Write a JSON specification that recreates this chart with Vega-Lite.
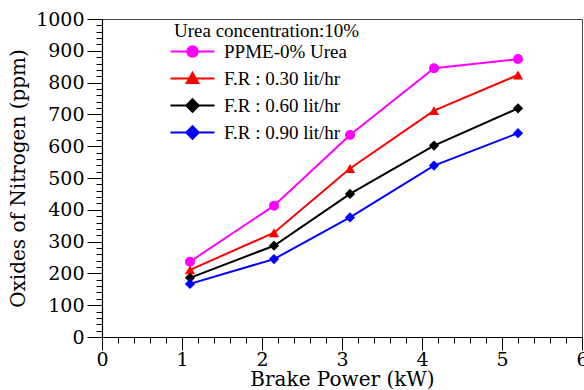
{
  "$schema": "https://vega.github.io/schema/vega-lite/v6.json",
  "width": 480,
  "height": 318,
  "autosize": {"type": "none"},
  "padding": {"left": 102, "top": 19, "right": 2, "bottom": 53},
  "background": "white",
  "config": {
    "font": "Liberation Serif",
    "view": {"stroke": "#444", "strokeWidth": 1},
    "axis": {"grid": false, "domainColor": "#000", "tickColor": "#000", "labelColor": "#000", "titleColor": "#000", "titleFontWeight": "normal"}
  },
  "data": {
    "values": [
      {"bp": 1.1, "nox": 237, "s": "PPME-0% Urea"},
      {"bp": 2.15, "nox": 413, "s": "PPME-0% Urea"},
      {"bp": 3.1, "nox": 635, "s": "PPME-0% Urea"},
      {"bp": 4.15, "nox": 845, "s": "PPME-0% Urea"},
      {"bp": 5.2, "nox": 874, "s": "PPME-0% Urea"},
      {"bp": 1.1, "nox": 211, "s": "F.R : 0.30 lit/hr"},
      {"bp": 2.15, "nox": 328, "s": "F.R : 0.30 lit/hr"},
      {"bp": 3.1, "nox": 530, "s": "F.R : 0.30 lit/hr"},
      {"bp": 4.15, "nox": 712, "s": "F.R : 0.30 lit/hr"},
      {"bp": 5.2, "nox": 824, "s": "F.R : 0.30 lit/hr"},
      {"bp": 1.1, "nox": 186, "s": "F.R : 0.60 lit/hr"},
      {"bp": 2.15, "nox": 287, "s": "F.R : 0.60 lit/hr"},
      {"bp": 3.1, "nox": 450, "s": "F.R : 0.60 lit/hr"},
      {"bp": 4.15, "nox": 602, "s": "F.R : 0.60 lit/hr"},
      {"bp": 5.2, "nox": 719, "s": "F.R : 0.60 lit/hr"},
      {"bp": 1.1, "nox": 167, "s": "F.R : 0.90 lit/hr"},
      {"bp": 2.15, "nox": 245, "s": "F.R : 0.90 lit/hr"},
      {"bp": 3.1, "nox": 376, "s": "F.R : 0.90 lit/hr"},
      {"bp": 4.15, "nox": 539, "s": "F.R : 0.90 lit/hr"},
      {"bp": 5.2, "nox": 641, "s": "F.R : 0.90 lit/hr"}
    ]
  },
  "encoding": {
    "x": {"field": "bp", "type": "quantitative", "scale": {"domain": [0, 6], "nice": false},
      "axis": {"orient": "bottom",
        "values": [0, 0.2, 0.4, 0.6, 0.8, 1, 1.2, 1.4, 1.6, 1.8, 2, 2.2, 2.4, 2.6, 2.8, 3, 3.2, 3.4, 3.6, 3.8, 4, 4.2, 4.4, 4.6, 4.8, 5, 5.2, 5.4, 5.6, 5.8, 6],
        "labelExpr": "datum.value % 1 === 0 ? format(datum.value, 'd') : ''",
        "tickSize": {"condition": {"test": "datum.value % 1 === 0", "value": 13}, "value": 6},
        "labelFont": "DejaVu Serif", "labelFontSize": 19, "labelPadding": 0, "labelFlush": false, "labelOverlap": false,
        "title": "Brake Power (kW)", "titleFont": "DejaVu Serif", "titleFontSize": 20, "titlePadding": 0, "domainWidth": 1.2}},
    "y": {"field": "nox", "type": "quantitative", "scale": {"domain": [0, 1000], "nice": false},
      "axis": {"orient": "left",
        "values": [0, 20, 40, 60, 80, 100, 120, 140, 160, 180, 200, 220, 240, 260, 280, 300, 320, 340, 360, 380, 400, 420, 440, 460, 480, 500, 520, 540, 560, 580, 600, 620, 640, 660, 680, 700, 720, 740, 760, 780, 800, 820, 840, 860, 880, 900, 920, 940, 960, 980, 1000],
        "labelExpr": "datum.value % 100 === 0 ? format(datum.value, 'd') : ''",
        "tickSize": {"condition": {"test": "datum.value % 100 === 0", "value": 15}, "value": 6},
        "labelFont": "DejaVu Serif", "labelFontSize": 19, "labelPadding": 3, "labelOverlap": false,
        "title": "Oxides of Nitrogen (ppm)", "titleFont": "DejaVu Serif", "titleFontSize": 20, "titlePadding": 7, "domainWidth": 1.2}},
    "color": {"field": "s", "type": "nominal",
      "scale": {"domain": ["PPME-0% Urea", "F.R : 0.30 lit/hr", "F.R : 0.60 lit/hr", "F.R : 0.90 lit/hr"], "range": ["#ff00ff", "#ff0000", "#000000", "#0000ff"]}}
  },
  "layer": [
    {
      "mark": {"type": "line", "strokeWidth": 2},
      "encoding": {
        "color": {"field": "s", "type": "nominal",
          "legend": {
            "orient": "none", "legendX": 72, "legendY": 3, "padding": 0,
            "title": "Urea concentration:10%", "titleFontSize": 19, "titleFontWeight": "normal", "titleColor": "#000", "titlePadding": 1, "titleFont": "Liberation Serif", "titleLimit": 400,
            "labelFontSize": 19, "labelColor": "#000", "labelFont": "Liberation Serif", "labelOffset": 22, "labelLimit": 400,
            "symbolSize": 256, "symbolStrokeWidth": 2, "rowPadding": 6,
            "encode": {
              "title": {"update": {"dx": {"value": -9}}},
              "symbols": {"update": {
                "shape": {"signal": "datum.value === 'PPME-0% Urea' ? 'M-2.75,0H2.75M0.65,0A0.65,0.65 0 1,1 -0.65,0A0.65,0.65 0 1,1 0.65,0Z' : datum.value === 'F.R : 0.30 lit/hr' ? 'M-2.75,0H2.75M0,-0.72L0.72,0.55L-0.72,0.55Z' : 'M-2.75,0H2.75M0,-0.78L0.78,0L0,0.78L-0.78,0Z'"},
                "fill": {"scale": "color", "field": "value"}
              }}
            }
          }}
      }
    },
    {
      "transform": [{"filter": "datum.s === 'PPME-0% Urea'"}],
      "mark": {"type": "point", "filled": true, "opacity": 1, "size": 100, "shape": "circle"},
      "encoding": {"color": {"field": "s", "type": "nominal", "legend": null}}
    },
    {
      "transform": [{"filter": "datum.s === 'F.R : 0.30 lit/hr'"}],
      "mark": {"type": "point", "filled": true, "opacity": 1, "size": 105, "shape": "triangle-up"},
      "encoding": {"color": {"field": "s", "type": "nominal", "legend": null}}
    },
    {
      "transform": [{"filter": "datum.s === 'F.R : 0.60 lit/hr' || datum.s === 'F.R : 0.90 lit/hr'"}],
      "mark": {"type": "point", "filled": true, "opacity": 1, "size": 105, "shape": "diamond"},
      "encoding": {"color": {"field": "s", "type": "nominal", "legend": null}}
    }
  ]
}
